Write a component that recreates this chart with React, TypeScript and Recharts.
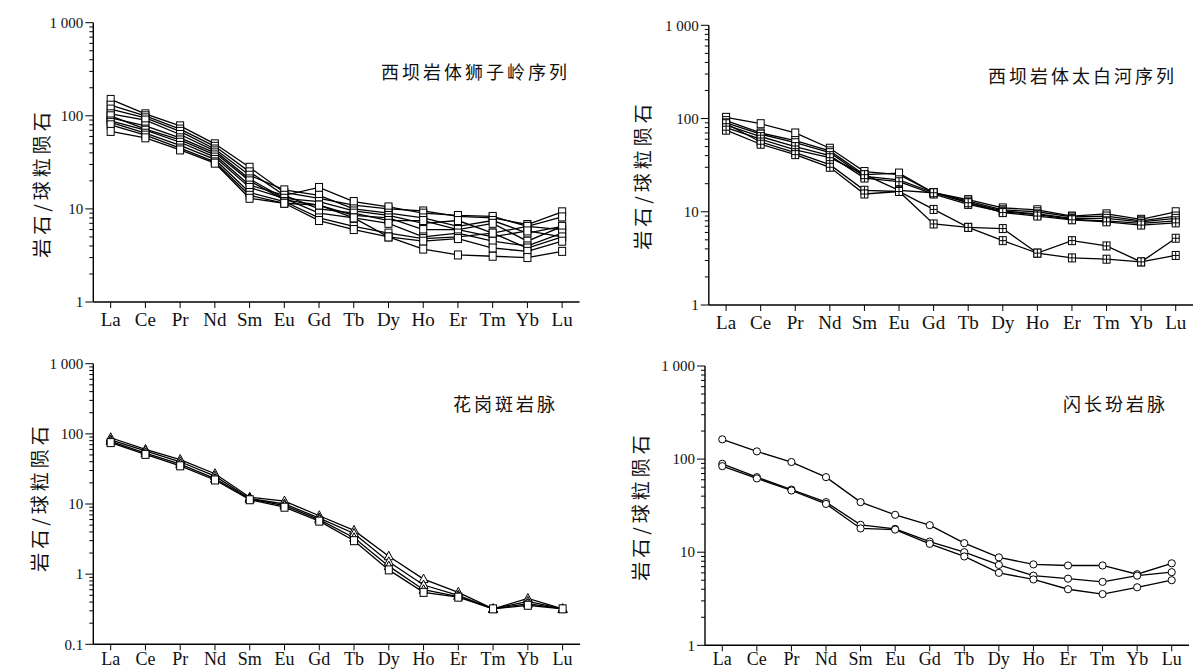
import React from 'react';
import { LineChart, Line, XAxis, YAxis } from 'recharts';

// ---------- categories ----------
const elements = ['La', 'Ce', 'Pr', 'Nd', 'Sm', 'Eu', 'Gd', 'Tb', 'Dy', 'Ho', 'Er', 'Tm', 'Yb', 'Lu'];

// ---------- panel 1: 西坝岩体狮子岭序列 ----------
const szl1 = [150, 105, 78, 50, 28, 15, 13, 11, 10, 9.5, 8.3, 8.0, 6.8, 9.3];
const szl2 = [130, 100, 72, 47, 25, 14, 17, 12, 10.5, 9, 8.5, 8.3, 6.5, 8.2];
const szl3 = [118, 95, 68, 44, 23, 16, 14, 10, 9, 8, 6.5, 7.5, 5.5, 6.5];
const szl4 = [105, 90, 63, 42, 21, 13, 12, 9.5, 8.5, 7, 7.5, 5.5, 6.5, 6];
const szl5 = [95, 78, 58, 40, 20, 12.5, 11, 8.5, 8, 6, 6, 7, 4.5, 6.5];
const szl6 = [100, 72, 55, 38, 18, 14, 10, 9, 7.5, 7.5, 6, 5, 5.8, 5];
const szl7 = [88, 70, 52, 36, 17, 13, 9, 8, 7, 5, 5.5, 4.5, 4, 5.5];
const szl8 = [85, 65, 48, 34, 15, 12, 8, 6.5, 5.5, 4.8, 5, 5.5, 3.8, 5];
const szl9 = [80, 62, 45, 32, 14, 11.5, 7.5, 6, 5, 4.5, 4.8, 3.8, 3.5, 4.5];
const szl10 = [68, 58, 43, 31, 13, 11.5, 11, 8, 5, 3.7, 3.2, 3.1, 3.0, 3.5];

// ---------- panel 2: 西坝岩体太白河序列 ----------
const tbh1 = [103, 88, 70, 48, 27, 25, 16, 13.5, 11, 10.5, 9, 9.5, 8.3, 10];
const tbh2 = [95, 70, 58, 45, 25, 26, 16, 13, 10.5, 10, 8.8, 9, 8, 9];
const tbh3 = [90, 68, 55, 43, 24, 22, 16, 12.5, 10.2, 9.5, 8.5, 8.5, 7.8, 8.5];
const tbh4 = [85, 64, 50, 40, 23, 21, 15.5, 12, 10, 9.3, 8.3, 8, 7.5, 8];
const tbh5 = [80, 60, 46, 38, 25, 17, 16, 12.5, 9.8, 9, 8.2, 7.8, 7.2, 7.6];
const tbh6 = [88, 56, 43, 32, 17, 16.5, 10.6, 6.8, 6.6, 3.6, 4.9, 4.3, 2.9, 5.2];
const tbh7 = [75, 53, 41, 30, 15.5, 16.5, 7.4, 6.8, 4.9, 3.6, 3.2, 3.1, 2.9, 3.4];

// ---------- panel 3: 花岗斑岩脉 ----------
const hgb1 = [88, 60, 43, 27, 12.5, 11, 6.8, 4.2, 1.8, 0.85, 0.55, 0.32, 0.45, 0.32];
const hgb2 = [82, 57, 40, 25, 12, 10, 6.3, 3.8, 1.5, 0.7, 0.5, 0.32, 0.41, 0.32];
const hgb3 = [78, 53, 37, 23, 11.8, 9.5, 6, 3.3, 1.3, 0.6, 0.48, 0.32, 0.38, 0.32];
const hgb4 = [75, 51, 35, 22, 11.5, 9, 5.7, 3.0, 1.15, 0.55, 0.47, 0.32, 0.36, 0.32];

// ---------- panel 4: 闪长玢岩脉 ----------
const scb1 = [163, 121, 93, 64, 34.5, 25.2, 19.5, 12.5, 8.8, 7.4, 7.2, 7.2, 5.8, 7.6];
const scb2 = [89, 64, 47, 34.5, 19.7, 17.8, 13, 10, 7.3, 5.6, 5.2, 4.8, 5.6, 6.1];
const scb3 = [84, 62, 46, 33, 18, 17.5, 12.3, 9.0, 6.0, 5.1, 4.0, 3.55, 4.2, 5.0];

// ---------- texts / ticks ----------
const yAxisTitle = '岩石/球粒陨石';
const panelTitles = ['西坝岩体狮子岭序列', '西坝岩体太白河序列', '花岗斑岩脉', '闪长玢岩脉'];
const majorTicksUpper = [1, 10, 100, 1000];
const majorTicksLower = [0.1, 1, 10, 100, 1000];
const majorTickLabels = ['0.1', '1', '10', '100', '1 000'];
const majorTickValues = [0.1, 1, 10, 100, 1000];

const buildMinor = (majors: number[]) => {
  const out: number[] = [];
  majors.forEach((m, i) => {
    out.push(m);
    if (i < majors.length - 1) {
      for (let k = 2; k <= 9; k++) out.push(+(m * k).toPrecision(6));
    }
  });
  return out;
};

const buildRows = (series: number[][]) =>
  elements.map((el, i) => {
    const row: Record<string, any> = { el };
    series.forEach((s, j) => {
      row['s' + j] = s[i];
    });
    return row;
  });

const serif = '"Liberation Serif", "DejaVu Serif", serif';
const cjk = '"Noto Sans CJK SC", "Noto Sans CJK JP", sans-serif';

// ---------- markers ----------
const Square = (p: any) => {
  const { cx, cy } = p;
  if (cx == null || cy == null) return <g />;
  return <rect x={cx - 3.5} y={cy - 4} width={7} height={8} fill="#fff" stroke="#000" strokeWidth={1} />;
};
const CrossSquare = (p: any) => {
  const { cx, cy } = p;
  if (cx == null || cy == null) return <g />;
  return (
    <g>
      <rect x={cx - 3.5} y={cy - 4} width={7} height={8} fill="#fff" stroke="#000" strokeWidth={1} />
      <line x1={cx - 3.5} x2={cx + 3.5} y1={cy} y2={cy} stroke="#000" strokeWidth={1} />
      <line x1={cx} x2={cx} y1={cy - 4} y2={cy + 4} stroke="#000" strokeWidth={1} />
    </g>
  );
};
const Triangle = (p: any) => {
  const { cx, cy } = p;
  if (cx == null || cy == null) return <g />;
  return (
    <path
      d={`M${cx},${cy - 5} L${cx + 4.5},${cy + 3.5} L${cx - 4.5},${cy + 3.5} Z`}
      fill="#fff"
      stroke="#000"
      strokeWidth={1}
    />
  );
};
const Circle = (p: any) => {
  const { cx, cy } = p;
  if (cx == null || cy == null) return <g />;
  return <circle cx={cx} cy={cy} r={3.6} fill="#fff" stroke="#000" strokeWidth={1} />;
};

const makeYTick = (majors: number[]) => (props: any) => {
  const { x, y, payload } = props;
  const v = payload.value;
  const isMajor = majors.some((m) => Math.abs(m - v) < 1e-9);
  const idx = majorTickValues.findIndex((m) => Math.abs(m - v) < 1e-9);
  return (
    <g>
      <line x1={x} x2={x - (isMajor ? 8 : 4)} y1={y} y2={y} stroke="#000" strokeWidth={1} />
      {isMajor && idx >= 0 ? (
        <text x={x - 10} y={y} dy="0.35em" textAnchor="end" fontFamily={serif} fontSize={15} fill="#111">
          {majorTickLabels[idx]}
        </text>
      ) : null}
    </g>
  );
};

type PanelProps = {
  left: number;
  top: number;
  width: number;
  height: number;
  plotL: number;
  plotR: number;
  plotT: number;
  plotB: number;
  domain: [number, number];
  majors: number[];
  series: number[][];
  markers: any[];
  title: string;
  titleX: number;
  titleY: number;
  yTitleX: number;
  yTitleY: number;
  tickGap: number;
  tickFont: number;
};

const Panel = (p: PanelProps) => {
  const pl = p.plotL - p.left;
  const pr = p.plotR - p.left;
  const pt = p.plotT - p.top;
  const pb = p.plotB - p.top;
  const pad = (pr - pl) / 28;
  const rows = buildRows(p.series);
  const ticks = buildMinor(p.majors);
  return (
    <>
      <div style={{ position: 'absolute', left: p.left, top: p.top, width: p.width, height: p.height }}>
        <LineChart
          width={p.width}
          height={p.height}
          data={rows}
          margin={{ top: pt, right: p.width - pr, bottom: 0, left: 0 }}
        >
          <XAxis
            dataKey="el"
            type="category"
            height={p.height - pb}
            padding={{ left: pad, right: pad }}
            interval={0}
            tickSize={6}
            tickMargin={p.tickGap}
            axisLine={{ stroke: '#000', strokeWidth: 1.4 }}
            tickLine={{ stroke: '#000', strokeWidth: 1 }}
            tick={{ fontFamily: serif, fontSize: p.tickFont, fill: '#111' }}
          />
          <XAxis
            xAxisId="top"
            dataKey="el"
            orientation="top"
            height={0}
            tick={false}
            tickLine={false}
            axisLine={{ stroke: '#000', strokeWidth: 1.4 }}
          />
          <YAxis
            type="number"
            scale="log"
            domain={p.domain}
            allowDataOverflow
            ticks={ticks}
            interval={0}
            width={pl}
            tickSize={0}
            tickMargin={0}
            tickLine={false}
            axisLine={{ stroke: '#000', strokeWidth: 1.4 }}
            tick={makeYTick(p.majors)}
          />
          <YAxis
            yAxisId="right"
            orientation="right"
            width={0}
            tick={false}
            tickLine={false}
            axisLine={{ stroke: '#000', strokeWidth: 1.4 }}
          />
          {p.series.map((_, j) => (
            <Line
              key={j}
              dataKey={'s' + j}
              stroke="#000"
              strokeWidth={1.3}
              dot={p.markers[j % p.markers.length]}
              activeDot={false}
              isAnimationActive={false}
            />
          ))}
        </LineChart>
      </div>
      <div
        style={{
          position: 'absolute',
          left: p.titleX,
          top: p.titleY,
          transform: 'translateY(-50%)',
          fontFamily: cjk,
          fontSize: 18,
          letterSpacing: 3,
          color: '#111',
          whiteSpace: 'nowrap',
          lineHeight: 1,
        }}
      >
        {p.title}
      </div>
      <div
        style={{
          position: 'absolute',
          left: p.yTitleX,
          top: p.yTitleY,
          transform: 'translate(-50%, -50%) rotate(-90deg)',
          fontFamily: cjk,
          fontSize: 19,
          letterSpacing: 4,
          color: '#111',
          whiteSpace: 'nowrap',
          lineHeight: 1,
        }}
      >
        {yAxisTitle}
      </div>
    </>
  );
};

export default function App() {
  return (
    <div style={{ position: 'absolute', left: 0, top: 0, width: 1194, height: 672, background: '#fff', overflow: 'hidden' }}>
      <Panel
        left={0}
        top={0}
        width={597}
        height={336}
        plotL={93.3}
        plotR={579.5}
        plotT={22.7}
        plotB={302}
        domain={[1, 1000]}
        majors={majorTicksUpper}
        series={[szl1, szl2, szl3, szl4, szl5, szl6, szl7, szl8, szl9, szl10]}
        markers={[Square]}
        title={panelTitles[0]}
        titleX={381}
        titleY={71}
        yTitleX={40}
        yTitleY={183}
        tickGap={5}
        tickFont={19}
      />
      <Panel
        left={597}
        top={0}
        width={597}
        height={336}
        plotL={708.8}
        plotR={1193}
        plotT={25.3}
        plotB={305}
        domain={[1, 1000]}
        majors={majorTicksUpper}
        series={[tbh1, tbh2, tbh3, tbh4, tbh5, tbh6, tbh7]}
        markers={[Square, Square, Square, CrossSquare, CrossSquare, CrossSquare, CrossSquare]}
        title={panelTitles[1]}
        titleX={988}
        titleY={75}
        yTitleX={641}
        yTitleY={175}
        tickGap={5}
        tickFont={19}
      />
      <Panel
        left={0}
        top={336}
        width={597}
        height={336}
        plotL={93.3}
        plotR={580}
        plotT={363.7}
        plotB={644.3}
        domain={[0.1, 1000]}
        majors={majorTicksLower}
        series={[hgb1, hgb2, hgb3, hgb4]}
        markers={[Triangle, Triangle, Triangle, Square]}
        title={panelTitles[2]}
        titleX={453}
        titleY={403}
        yTitleX={38}
        yTitleY={497}
        tickGap={2}
        tickFont={18}
      />
      <Panel
        left={597}
        top={336}
        width={597}
        height={336}
        plotL={705}
        plotR={1189}
        plotT={366}
        plotB={645.3}
        domain={[1, 1000]}
        majors={majorTicksUpper}
        series={[scb1, scb2, scb3]}
        markers={[Circle]}
        title={panelTitles[3]}
        titleX={1063}
        titleY={403}
        yTitleX={639}
        yTitleY={506}
        tickGap={1}
        tickFont={18}
      />
    </div>
  );
}
